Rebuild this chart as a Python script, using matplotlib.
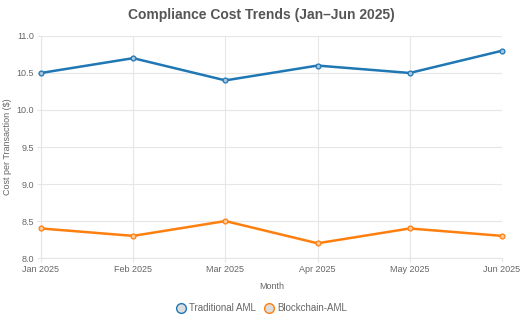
import matplotlib
matplotlib.use("Agg")
import matplotlib.pyplot as plt
from matplotlib.lines import Line2D

plt.rcParams["font.family"] = ["Liberation Sans", "DejaVu Sans"]

months = ["Jan 2025", "Feb 2025", "Mar 2025", "Apr 2025", "May 2025", "Jun 2025"]
traditional = [10.5, 10.7, 10.4, 10.6, 10.5, 10.8]
blockchain = [8.4, 8.3, 8.5, 8.2, 8.4, 8.3]
y_ticks = [8.0, 8.5, 9.0, 9.5, 10.0, 10.5, 11.0]

blue = "#1f77b4"
orange = "#ff7f0e"
text_grey = "#666666"
grid_grey = "#e6e6e6"

fig = plt.figure(figsize=(5.22, 3.21), dpi=100)
ax = fig.add_axes([0.0785, 0.196, 0.883, 0.692])

x = list(range(len(months)))
for values, color, fill in ((traditional, blue, "#a5c4df"), (blockchain, orange, "#fcc99a")):
    ax.plot(x, values, color=color, linewidth=1.8, marker="o", markersize=3.5,
            markerfacecolor=fill, markeredgecolor=color, markeredgewidth=0.9,
            zorder=3, clip_on=False)

ax.set_xlim(0, len(months) - 1)
ax.set_ylim(8.0, 11.0)
ax.set_xticks(x)
ax.set_xticklabels(months)
ax.set_yticks(y_ticks)
ax.set_yticklabels([f"{v:.1f}" for v in y_ticks])
ax.tick_params(axis="both", labelsize=6.5, colors=text_grey, length=3, width=0.8, color=grid_grey, pad=2)
ax.grid(True, color=grid_grey, linewidth=0.8)
ax.set_axisbelow(True)
for side in ("top", "right"):
    ax.spines[side].set_visible(False)
for side in ("left", "bottom"):
    ax.spines[side].set_color(grid_grey)
    ax.spines[side].set_linewidth(0.8)

ax.set_xlabel("Month", fontsize=6.5, color=text_grey, labelpad=6)
ax.set_ylabel("Cost per Transaction ($)", fontsize=6.5, color=text_grey, labelpad=3)
fig.suptitle("Compliance Cost Trends (Jan\u2013Jun 2025)", x=0.5, y=0.975,
             fontsize=10, fontweight="bold", color="#555555")

handles = [
    Line2D([], [], linestyle="none", marker="o", markersize=7, markerfacecolor="#dddddd",
           markeredgecolor=blue, markeredgewidth=1, label="Traditional AML"),
    Line2D([], [], linestyle="none", marker="o", markersize=7, markerfacecolor="#dddddd",
           markeredgecolor=orange, markeredgewidth=1, label="Blockchain-AML"),
]
leg = fig.legend(handles=handles, loc="center", bbox_to_anchor=(0.5, 0.04), ncol=2, frameon=False,
                 fontsize=7, handletextpad=0.2, columnspacing=0.8, handlelength=1.2)
for t in leg.get_texts():
    t.set_color(text_grey)

fig.savefig("out.png", dpi=100)
